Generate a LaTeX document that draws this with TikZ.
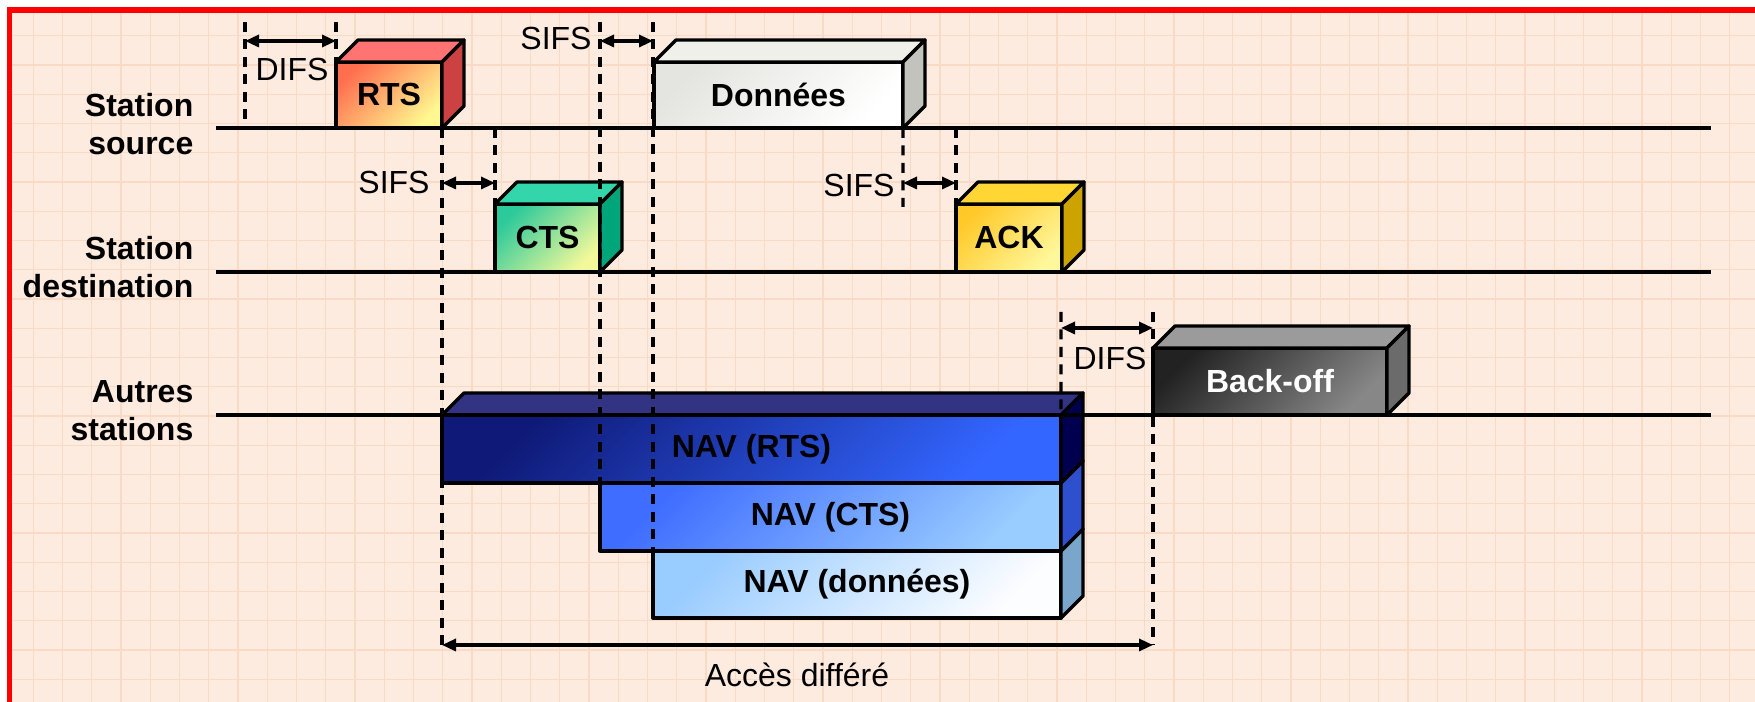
\documentclass[tikz,border=0pt]{standalone}
\usepackage{fontspec}
\setmainfont{Liberation Sans}
\usetikzlibrary{arrows.meta}

\definecolor{fond}{HTML}{FDEBE0}
\definecolor{grille}{HTML}{F9DAC4}
\definecolor{rtsA}{HTML}{FF6F4F}  \definecolor{rtsB}{HTML}{FFF890}
\definecolor{rtsTop}{HTML}{FF7373}\definecolor{rtsSide}{HTML}{CC4141}
\definecolor{ctsA}{HTML}{2CC99A}  \definecolor{ctsB}{HTML}{F3F99A}
\definecolor{ctsTop}{HTML}{33D6AA}\definecolor{ctsSide}{HTML}{00A67A}
\definecolor{datA}{HTML}{E4E4E0}  \definecolor{datB}{HTML}{FFFFFF}
\definecolor{datTop}{HTML}{F0F0EB}\definecolor{datSide}{HTML}{C3C3BD}
\definecolor{ackA}{HTML}{FFC929}  \definecolor{ackB}{HTML}{FFF79B}
\definecolor{ackTop}{HTML}{FFD633}\definecolor{ackSide}{HTML}{CCA300}
\definecolor{boA}{HTML}{222222}   \definecolor{boB}{HTML}{878787}
\definecolor{boTop}{HTML}{9B9B9B} \definecolor{boSide}{HTML}{6B6B6B}
\definecolor{nrA}{HTML}{0F1A78}   \definecolor{nrB}{HTML}{3366FF}
\definecolor{nrTop}{HTML}{333383} \definecolor{nrSide}{HTML}{00004F}
\definecolor{ncA}{HTML}{3F6DFF}   \definecolor{ncB}{HTML}{99CCFF}
\definecolor{ncSide}{HTML}{2E50CF}
\definecolor{ndA}{HTML}{99CCFF}   \definecolor{ndB}{HTML}{FCFDFF}
\definecolor{ndSide}{HTML}{7BA6CC}

\newcommand{\taille}{\fontsize{9.1}{10.8}\selectfont}
% faces du dessus et de cote d'un bloc
\newcommand{\cubetop}[2]{\draw[face,fill=#2] (#1.north west) -- ++(22,-22) -- ([shift={(22,-22)}]#1.north east) -- (#1.north east) -- cycle;}
\newcommand{\cubeside}[2]{\draw[face,fill=#2] (#1.north east) -- ++(22,-22) -- ([shift={(22,-22)}]#1.south east) -- (#1.south east) -- cycle;}

\tikzset{
  timeline/.style={line width=0.95pt},
  tirets/.style={line width=0.95pt, dash pattern=on 1mm off 0.75mm},
  duree/.style={line width=0.9pt, {Triangle[length=1.4mm,width=1.2mm]}-{Triangle[length=1.4mm,width=1.2mm]}},
  face/.style={draw, line width=0.95pt, line join=round},
  cubefront/.style 2 args={draw, line width=0.95pt, line join=round, inner sep=0pt, outer sep=0pt,
    font=\taille\bfseries, top color=#1, bottom color=#2, shading angle=45},
  station/.style={font=\taille\bfseries, align=right, anchor=east, inner sep=0pt},
  lbl/.style={font=\taille, inner sep=0pt},
}

\begin{document}
\begin{tikzpicture}[x=0.1mm, y=-0.1mm]
\useasboundingbox (0,0) rectangle (1755,702);
\fill[white] (0,0) rectangle (1755,702);
\fill[fond] (9.5,10) rectangle (1755,702);
\foreach \gx in {1,...,59} \draw[grille, line width=0.3pt] ({4+29.25*\gx},10) -- ({4+29.25*\gx},702);
\foreach \gy in {1,...,23} \draw[grille, line width=0.3pt] (9.5,{6.5+29.25*\gy}) -- (1755,{6.5+29.25*\gy});
\draw[red, line width=0.6mm] (1760,10) -- (9.5,10) -- (9.5,710);

% lignes des stations
\coordinate (src0) at (216,128); \coordinate (src1) at (1711,128);
\coordinate (dst0) at (216,272); \coordinate (dst1) at (1711,272);
\coordinate (aut0) at (216,415); \coordinate (aut1) at (1711,415);
\draw[timeline] (src0) -- (src1);
\draw[timeline] (dst0) -- (dst1);

\node[station] (lsrc) at (194,124) {Station\\source};
\node[station] (ldst) at (194,267) {Station\\destination};
\node[station] (laut) at (194,411) {Autres\\stations};

% NAV
\node[cubefront={ndA}{ndB}, minimum width=40.8mm, minimum height=6.7mm] (navdat) at (857,584.5) {NAV (données)};
\cubeside{navdat}{ndSide}
\node[cubefront={ncA}{ncB}, minimum width=46.1mm, minimum height=6.8mm] (navcts) at (830.5,517) {NAV (CTS)};
\cubeside{navcts}{ncSide}
\node[cubefront={nrA}{nrB}, minimum width=61.9mm, minimum height=6.8mm] (navrts) at (751.5,449) {NAV (RTS)};
\cubetop{navrts}{nrTop}
\cubeside{navrts}{nrSide}
\draw[timeline] (aut0) -- (aut1);

% trames
\node[cubefront={rtsA}{rtsB}, minimum width=10.6mm, minimum height=6.6mm] (rts) at (389,95) {RTS};
\cubetop{rts}{rtsTop}
\cubeside{rts}{rtsSide}
\node[cubefront={ctsA}{ctsB}, minimum width=10.5mm, minimum height=6.8mm] (cts) at (547.5,238) {CTS};
\cubetop{cts}{ctsTop}
\cubeside{cts}{ctsSide}
\node[cubefront={datA}{datB}, minimum width=24.9mm, minimum height=6.6mm] (dat) at (778.5,95) {Données};
\cubetop{dat}{datTop}
\cubeside{dat}{datSide}
\node[cubefront={ackA}{ackB}, minimum width=10.6mm, minimum height=6.8mm] (ack) at (1009,238) {ACK};
\cubetop{ack}{ackTop}
\cubeside{ack}{ackSide}
\node[cubefront={boA}{boB}, minimum width=23.4mm, minimum height=6.7mm, text=white] (bo) at (1270,381.5) {Back-off};
\cubetop{bo}{boTop}
\cubeside{bo}{boSide}

% tirets
\coordinate (t1) at (245,22);
\coordinate (t9) at (1061,312);
\coordinate (s3b) at (903,207);
\coordinate (hA) at (0,41);
\coordinate (hB) at (0,183);
\coordinate (hC) at (0,328);
\coordinate (hD) at (0,645);
\draw[tirets] (t1) -- (t1 |- src0);
\draw[tirets] (rts.north west |- t1) -- (rts.north west);
\draw[tirets] (rts.south east) -- (rts.south east |- hD);
\draw[tirets] (cts.north west |- src0) -- (cts.north west);
\draw[tirets] (navcts.north west |- t1) -- (navcts.north west);
\draw[tirets] (navdat.north west |- t1) -- (navdat.north west);
\draw[tirets] (dat.south east) -- (s3b);
\draw[tirets] (ack.north west |- src0) -- (ack.north west);
\draw[tirets] (t9) -- (navrts.north east);
\draw[tirets] (bo.north west |- t9) -- (bo.north west |- hD);

% durees
\draw[duree] (t1 |- hA) -- (rts.north west |- hA);
\draw[duree] (navcts.north west |- hA) -- (navdat.north west |- hA);
\draw[duree] (rts.south east |- hB) -- (cts.north west |- hB);
\draw[duree] (dat.south east |- hB) -- (ack.north west |- hB);
\draw[duree] (navrts.north east |- hC) -- (bo.north west |- hC);
\draw[duree] (rts.south east |- hD) -- (bo.north west |- hD);

\node[lbl] (ldifs1) at (292,70) {DIFS};
\node[lbl] (lsifs1) at (556,39) {SIFS};
\node[lbl] (lsifs2) at (394,183) {SIFS};
\node[lbl] (lsifs3) at (859,186) {SIFS};
\node[lbl] (ldifs2) at (1110,359) {DIFS};
\node[lbl] (lacc) at (797,675) {Accès différé};
\end{tikzpicture}
\end{document}
